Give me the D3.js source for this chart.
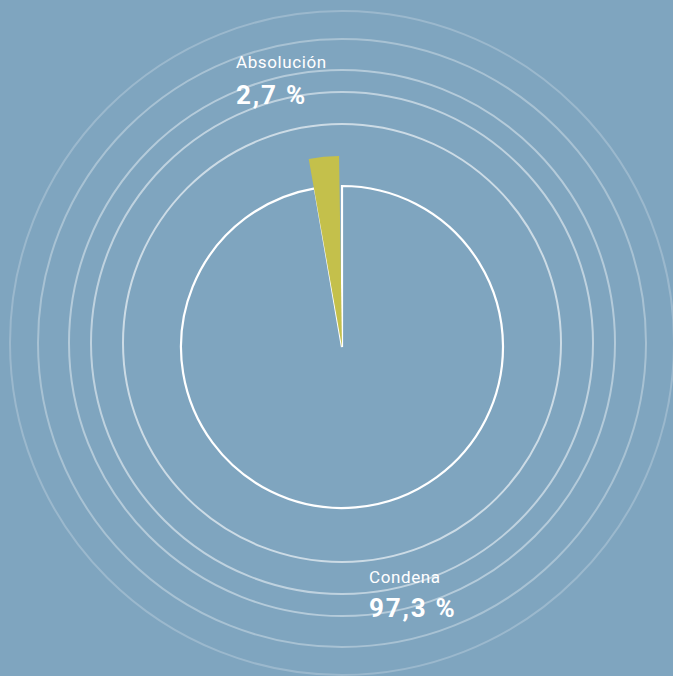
<!DOCTYPE html>
<html>
<head>
<meta charset="utf-8">
<script src="https://cdnjs.cloudflare.com/ajax/libs/d3/7.8.5/d3.min.js"></script>
<style>
  html, body { margin: 0; padding: 0; background: #7fa5bf; }
  svg { display: block; }
  text { font-family: Roboto, "Open Sans", sans-serif; fill: #fff; }
</style>
</head>
<body>
<div id="chart"></div>
<script>
// data
var categories = ["Condena", "Absolución"];
var values = [97.3, 2.7];
var valueLabels = ["97,3 %", "2,7 %"];

// decorative rings (radius, opacity)
var ringRadii = [219, 251, 273, 304, 332];
var ringOpacity = [0.6, 0.5, 0.42, 0.32, 0.22];

var width = 673, height = 676;
var cx = 342, cy = 347;
var ringCy = 343;

var svg = d3.select("#chart")
    .append("svg")
    .attr("width", width)
    .attr("height", height);

svg.append("rect")
    .attr("width", width)
    .attr("height", height)
    .attr("fill", "#7fa5bf");

// rings
svg.append("g")
    .selectAll("circle")
    .data(ringRadii)
    .enter()
    .append("circle")
    .attr("cx", cx)
    .attr("cy", ringCy)
    .attr("r", d => d)
    .attr("fill", "none")
    .attr("stroke", "#fff")
    .attr("stroke-width", 2)
    .attr("stroke-opacity", (d, i) => ringOpacity[i]);

var pie = d3.pie().sort(null);
var arcs = pie(values);

var g = svg.append("g")
    .attr("transform", "translate(" + cx + "," + cy + ")");

// Condena slice: outline only
var arcMain = d3.arc().innerRadius(0).outerRadius(161);
g.append("path")
    .attr("d", arcMain(arcs[0]))
    .attr("fill", "none")
    .attr("stroke", "#fff")
    .attr("stroke-width", 2.2)
    .attr("stroke-linejoin", "miter");

// Absolución slice: larger, yellow, nudged a bit to the left
var arcSmall = d3.arc().innerRadius(0).outerRadius(191).padAngle(0.01);
g.append("path")
    .attr("d", arcSmall(arcs[1]))
    .attr("transform", "rotate(-0.6)")
    .attr("fill", "#c4c04b");

// labels
var labels = [
    { x: 369, y1: 583, y2: 617 },
    { x: 236, y1: 68, y2: 104 }
];

labels.forEach(function(l, i) {
    svg.append("text")
        .attr("x", l.x)
        .attr("y", l.y1)
        .style("font-size", "17px")
        .style("letter-spacing", "0.6px")
        .text(categories[i]);
    svg.append("text")
        .attr("x", l.x)
        .attr("y", l.y2)
        .style("font-size", "26px")
        .style("font-weight", "bold")
        .style("letter-spacing", "1.8px")
        .text(valueLabels[i]);
});
</script>
</body>
</html>
